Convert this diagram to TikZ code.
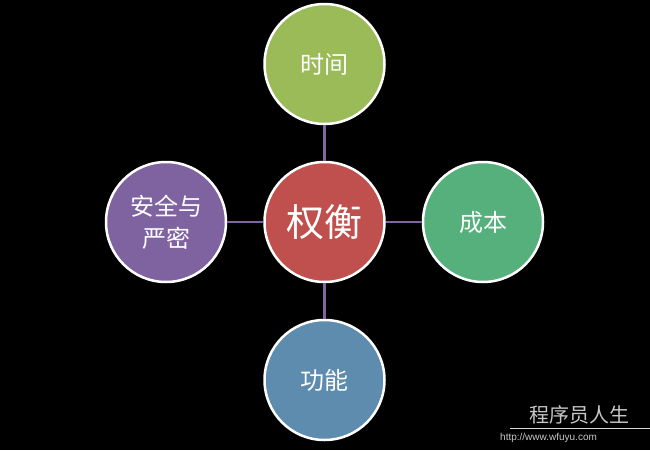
\documentclass[tikz,border=0pt]{standalone}
\usepackage{fontspec}
\setmainfont{Noto Sans CJK SC}
\newfontfamily\latinsans{Liberation Sans}
\definecolor{cred}{HTML}{C0504D}
\definecolor{cgreen}{HTML}{9BBB59}
\definecolor{cteal}{HTML}{55B07C}
\definecolor{cblue}{HTML}{5E8CAE}
\definecolor{cpurple}{HTML}{7F63A1}
\definecolor{cline}{HTML}{8064A2}
\begin{document}
\begin{tikzpicture}[x=1pt,y=-1pt,
  bubble/.style={circle,draw=white,line width=2.5pt,minimum size=120pt,inner sep=0pt,text=white,font=\fontsize{24}{30}\selectfont,align=center},
  link/.style={draw=cline,line width=2.4pt},
  wm/.style={text=black!22,inner sep=0pt}]
\fill[black] (0,0) rectangle (650,450);
\useasboundingbox (0,0) rectangle (650,450);
\node[bubble,fill=cred,font=\fontsize{38}{44}\selectfont] (c) at (324.5,222) {权衡};
\node[bubble,fill=cgreen] (t) at (324.5,64) {时间};
\node[bubble,fill=cteal] (r) at (483,222) {成本};
\node[bubble,fill=cblue] (b) at (324.5,380) {功能};
\node[bubble,fill=cpurple,font=\fontsize{24}{32}\selectfont] (l) at (166,222) {安全与\\严密};
\draw[link] (c.north) -- (t.south);
\draw[link] (c.east) -- (r.west);
\draw[link] (c.south) -- (b.north);
\draw[link] (c.west) -- (l.east);
\node[wm,font=\fontsize{20}{22}\selectfont,anchor=west] (wm1) at (529,415) {程序员人生};
\coordinate (wl1) at (510,428.5);
\coordinate (wl2) at (650,428.5);
\draw[white!85!black,line width=1.3pt] (wl1) -- (wl2);
\node[wm,font=\latinsans\fontsize{10}{11}\selectfont,anchor=west] (wm2) at (500,438) {http://www.wfuyu.com};
\end{tikzpicture}
\end{document}
